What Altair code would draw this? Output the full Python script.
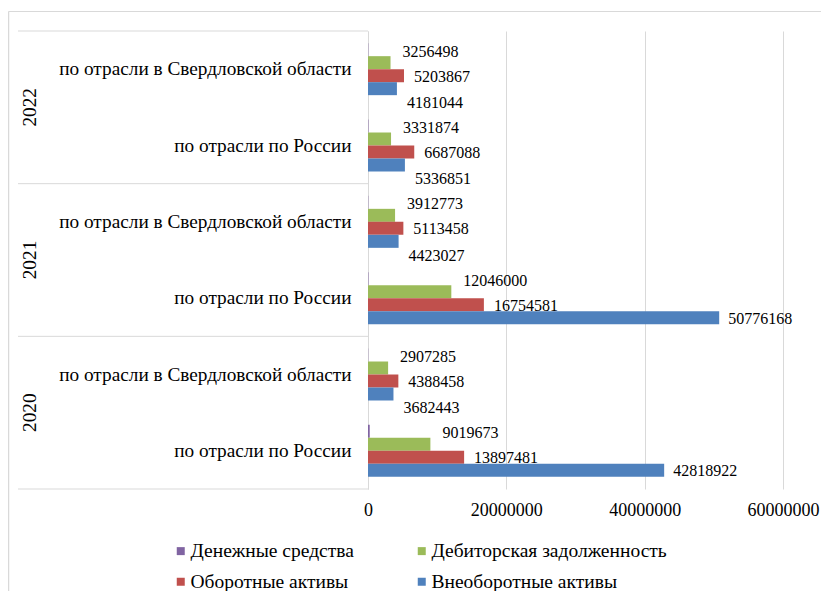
import altair as alt
import pandas as pd

# ---- data (top to bottom order) ----
years = ["2022", "2022", "2021", "2021", "2020", "2020"]
regions = ["по отрасли в Свердловской области", "по отрасли по России"] * 3
series = ["Денежные средства", "Дебиторская задолженность", "Оборотные активы", "Внеоборотные активы"]
colors = ["#8064A2", "#9BBB59", "#C0504D", "#4F81BD"]
legend_order = ["Денежные средства", "Оборотные активы", "Дебиторская задолженность", "Внеоборотные активы"]

cash = [40000, 60000, 40000, 60000, 30000, 250000]
receivables = [3256498, 3331874, 3912773, 12046000, 2907285, 9019673]
current_assets = [5203867, 6687088, 5113458, 16754581, 4388458, 13897481]
noncurrent_assets = [4181044, 5336851, 4423027, 50776168, 3682443, 42818922]

x_ticks = [0, 20000000, 40000000, 60000000]
year_list = ["2022", "2021", "2020"]

keys = [f"{y}|{r}" for y, r in zip(years, regions)]
rows = []
for i, k in enumerate(keys):
    for s, vals in zip(series, [cash, receivables, current_assets, noncurrent_assets]):
        rows.append({"key": k, "series": s, "value": vals[i]})
df = pd.DataFrame(rows)

FONT = "Times New Roman, Liberation Serif, Tinos, DejaVu Serif, serif"
GRID = "#d9d9d9"
color_map = dict(zip(series, colors))

yscale = alt.Scale(domain=keys, paddingInner=0, paddingOuter=0)
yaxis = alt.Axis(title=None, labelExpr="split(datum.label, '|')[1]", labelFont=FONT,
                 labelFontSize=19.3, labelColor="#000000", labelPadding=17, labelLimit=0,
                 ticks=False, domain=True, domainColor=GRID, domainWidth=1, grid=False)


def Y(**kw):
    return alt.Y("key:N", sort=keys, scale=yscale, axis=yaxis, **kw)


yoff = alt.YOffset("series:N", sort=series,
                   scale=alt.Scale(domain=series, paddingInner=0, paddingOuter=0.936))
xenc = alt.X("value:Q", scale=alt.Scale(domain=[0, 60000000], nice=False),
             axis=alt.Axis(title=None, values=x_ticks, format="d", grid=True, gridColor=GRID,
                           gridWidth=1, domain=False, ticks=False, labelFont=FONT,
                           labelFontSize=18, labelColor="#000000", labelPadding=12,
                           labelFlush=False, labelOverlap=False))

bars = alt.Chart(df).mark_bar().encode(
    x=xenc,
    y=Y(),
    yOffset=yoff,
    color=alt.Color("series:N", sort=legend_order,
                    scale=alt.Scale(domain=legend_order, range=[color_map[s] for s in legend_order]),
                    legend=alt.Legend(title=None, orient="none", legendX=-197, legendY=510,
                                      columns=2, columnPadding=58, rowPadding=10,
                                      symbolType="square", symbolSize=64, symbolStrokeWidth=0,
                                      labelFont=FONT, labelFontSize=19.5, labelColor="#000000",
                                      labelOffset=0, labelLimit=0)),
)


def labels(filt, dx, dy):
    return alt.Chart(df).transform_filter(filt).mark_text(
        align="left", baseline="middle", dx=dx, dy=dy, font=FONT, fontSize=16, color="#000000"
    ).encode(x=alt.X("value:Q"), y=Y(), yOffset=yoff, text=alt.Text("value:Q", format="d"))


lab_green = labels(alt.datum.series == series[1], 12, -11)
lab_red = labels(alt.datum.series == series[2], 10, 1)
lab_blue_small = labels((alt.datum.series == series[3]) & (alt.datum.value < 20000000), 10, 14.5)
lab_blue_big = labels((alt.datum.series == series[3]) & (alt.datum.value >= 20000000), 9, 1)

ydf = pd.DataFrame({"year": year_list,
                    "key": [f"{y}|{regions[0]}" for y in year_list]})

sep_top = alt.Chart(ydf).mark_rule(color=GRID, strokeWidth=1).encode(
    x=alt.value(-350), x2=alt.value(0), y=Y(bandPosition=0))
sep_bottom = alt.Chart(pd.DataFrame({"key": [keys[-1]]})).mark_rule(color=GRID, strokeWidth=1).encode(
    x=alt.value(-350), x2=alt.value(0), y=Y(bandPosition=1))
year_text = alt.Chart(ydf).mark_text(angle=270, align="center", baseline="middle",
                                     font=FONT, fontSize=19.3, color="#000000").encode(
    x=alt.value(-338), y=Y(bandPosition=1), text="year:N")

frame_left = alt.Chart(alt.Data(values=[{}])).mark_rule(color="#d9d9d9", strokeWidth=1.5).encode(
    x=alt.value(-359.5), y=alt.value(-19.5), y2=alt.value(600))
frame_top = alt.Chart(alt.Data(values=[{}])).mark_rule(color="#d9d9d9", strokeWidth=1).encode(
    x=alt.value(-359.5), x2=alt.value(500), y=alt.value(-19.5))

chart = alt.layer(
    frame_left, frame_top, sep_top, sep_bottom, bars,
    lab_green, lab_red, lab_blue_small, lab_blue_big, year_text
).properties(
    width=415, height=458,
    autosize=alt.AutoSizeParams(type="none"),
    padding={"left": 360, "top": 23, "right": 38, "bottom": 102},
    background="white",
).configure(font=FONT).configure_view(stroke=None).configure_axis(
    labelFont=FONT).configure_legend(labelFont=FONT)

chart.save("out.html", embed_options={"renderer": "svg", "actions": False})
